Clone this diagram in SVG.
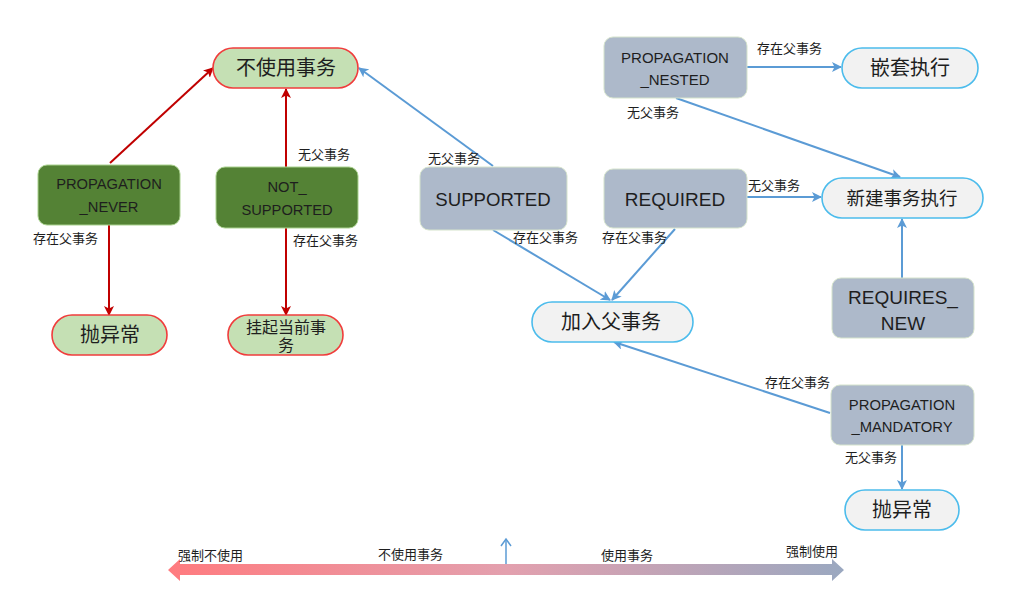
<svg xmlns="http://www.w3.org/2000/svg" width="1009" height="595" viewBox="0 0 1009 595">
<defs>
<style>
text{font-family:"Liberation Sans","Noto Sans CJK SC",sans-serif;fill:#1e1e1e;text-anchor:middle;dominant-baseline:central}
.pg{fill:#c5e0b4;stroke:#f03c3c;stroke-width:1.6}
.pb{fill:#f2f2f2;stroke:#4cbcec;stroke-width:1.6}
.dg{fill:#548235;stroke:#a9d18e;stroke-width:1}
.gb{fill:#adb9ca;stroke:#d5e3cc;stroke-width:1}
.red{stroke:#c00000;stroke-width:2;fill:none;marker-end:url(#ar)}
.blue{stroke:#5b9bd5;stroke-width:2;fill:none;marker-end:url(#ab)}
.lbl{font-size:13px;text-anchor:start}
.big{font-size:20px}
</style>
<marker id="ar" viewBox="0 0 10 10" refX="9" refY="5" markerWidth="10" markerHeight="10" markerUnits="userSpaceOnUse" orient="auto">
<path d="M0,0 L10,5 L0,10 L2.5,5 z" fill="#c00000"/>
</marker>
<marker id="ab" viewBox="0 0 10 10" refX="9" refY="5" markerWidth="10" markerHeight="10" markerUnits="userSpaceOnUse" orient="auto">
<path d="M0,0 L10,5 L0,10 L2.5,5 z" fill="#5b9bd5"/>
</marker>
<linearGradient id="grad" x1="168" y1="0" x2="844" y2="0" gradientUnits="userSpaceOnUse">
<stop offset="0" stop-color="#ff7b7f"/>
<stop offset="0.5" stop-color="#e3a0ae"/>
<stop offset="1" stop-color="#9aa8c0"/>
</linearGradient>
</defs>

<g id="connectors">
<line class="red" x1="110" y1="163" x2="213" y2="68"/>
<line class="red" x1="109" y1="225" x2="109" y2="315"/>
<line class="red" x1="286" y1="167" x2="286" y2="89"/>
<line class="red" x1="286" y1="228" x2="286" y2="315"/>
<line class="blue" x1="493" y1="166" x2="359" y2="68"/>
<line class="blue" x1="493" y1="230" x2="610" y2="300"/>
<line class="blue" x1="675" y1="229" x2="612" y2="300"/>
<line class="blue" x1="747" y1="197" x2="821" y2="197"/>
<line class="blue" x1="747" y1="67" x2="841" y2="67"/>
<line class="blue" x1="676" y1="98" x2="900" y2="177"/>
<line class="blue" x1="902" y1="278" x2="902" y2="219"/>
<line class="blue" x1="830" y1="413" x2="614" y2="342"/>
<line class="blue" x1="902" y1="445" x2="902" y2="489"/>
<text class="lbl" x="33" y="238">存在父事务</text>
<text class="lbl" x="298" y="154">无父事务</text>
<text class="lbl" x="293" y="240">存在父事务</text>
<text class="lbl" x="428" y="158">无父事务</text>
<text class="lbl" x="513" y="237">存在父事务</text>
<text class="lbl" x="602" y="237">存在父事务</text>
<text class="lbl" x="627" y="112">无父事务</text>
<text class="lbl" x="757" y="48">存在父事务</text>
<text class="lbl" x="748" y="185">无父事务</text>
<text class="lbl" x="765" y="382">存在父事务</text>
<text class="lbl" x="845" y="457">无父事务</text>
</g>

<g id="n-no-tx"><rect class="pg" x="213" y="48" width="145" height="40" rx="20"/><text class="big" x="286" y="68">不使用事务</text></g>
<g id="n-never"><rect class="dg" x="38" y="165" width="142" height="60" rx="9"/><text x="109" y="184" font-size="14.7">PROPAGATION</text><text x="109" y="207" font-size="14.7">_NEVER</text></g>
<g id="n-not-supported"><rect class="dg" x="216" y="167" width="142" height="61" rx="9"/><text x="287" y="187" font-size="14.7">NOT_</text><text x="287" y="210" font-size="14.7">SUPPORTED</text></g>
<g id="n-throw-left"><rect class="pg" x="52" y="315" width="115" height="40" rx="20"/><text class="big" x="110" y="335">抛异常</text></g>
<g id="n-suspend"><rect class="pg" x="228" y="315" width="115" height="40" rx="20"/><text x="286" y="327" font-size="16">挂起当前事</text><text x="286" y="345" font-size="16">务</text></g>
<g id="n-supported"><rect class="gb" x="420" y="167" width="147" height="63" rx="9"/><text x="493" y="199" font-size="18.6">SUPPORTED</text></g>
<g id="n-required"><rect class="gb" x="604" y="169" width="143" height="59" rx="9"/><text x="675" y="199" font-size="19">REQUIRED</text></g>
<g id="n-nested"><rect class="gb" x="604" y="37" width="143" height="61" rx="9"/><text x="675" y="57" font-size="15">PROPAGATION</text><text x="675" y="79" font-size="15">_NESTED</text></g>
<g id="n-nested-exec"><rect class="pb" x="842" y="48" width="136" height="40" rx="20"/><text class="big" x="910" y="68">嵌套执行</text></g>
<g id="n-new-tx"><rect class="pb" x="822" y="178" width="161" height="40" rx="20"/><text x="902" y="198" font-size="18.5">新建事务执行</text></g>
<g id="n-requires-new"><rect class="gb" x="832" y="278" width="142" height="60" rx="9"/><text x="903" y="297" font-size="19">REQUIRES_</text><text x="903" y="323" font-size="19">NEW</text></g>
<g id="n-join"><rect class="pb" x="532" y="302" width="161" height="40" rx="20"/><text class="big" x="611" y="322">加入父事务</text></g>
<g id="n-mandatory"><rect class="gb" x="831" y="385" width="143" height="60" rx="9"/><text x="902" y="405" font-size="14.8">PROPAGATION</text><text x="902" y="427" font-size="14.8">_MANDATORY</text></g>
<g id="n-throw-right"><rect class="pb" x="845" y="490" width="114" height="40" rx="20"/><text class="big" x="902" y="510">抛异常</text></g>

<g id="scale">
<polygon points="168,570 180,559 180,564 832,564 832,559 844,570 832,581 832,575 180,575 180,581" fill="url(#grad)"/>
<line x1="506" y1="564" x2="506" y2="540" stroke="#5b9bd5" stroke-width="1.5"/>
<path d="M501,546 L506,539 L511,546" fill="none" stroke="#5b9bd5" stroke-width="1.5"/>
<text class="lbl" x="178" y="555">强制不使用</text>
<text class="lbl" x="378" y="554">不使用事务</text>
<text class="lbl" x="601" y="555">使用事务</text>
<text class="lbl" x="786" y="551">强制使用</text>
</g>
</svg>
